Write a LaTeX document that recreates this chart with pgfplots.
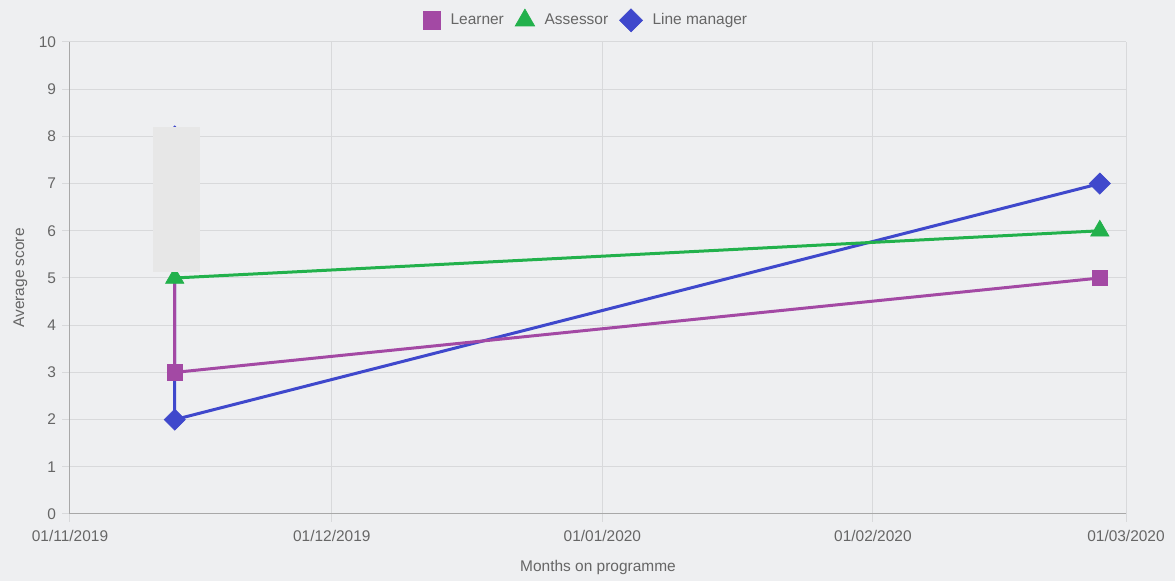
\documentclass[border=0pt]{standalone}
\usepackage{fontspec}
\setmainfont{Liberation Sans}
\usepackage{pgfplots}
\pgfplotsset{compat=1.18}
\usetikzlibrary{backgrounds}
\definecolor{bg}{HTML}{EEEFF1}
\definecolor{learner}{HTML}{A349A4}
\definecolor{assessor}{HTML}{22B14C}
\definecolor{manager}{HTML}{3F48CC}
\definecolor{gridc}{HTML}{D8D9DB}
\definecolor{axc}{HTML}{A8A8A8}
\definecolor{txt}{HTML}{666666}
\definecolor{boxc}{HTML}{E7E7E7}
\begin{document}
\begin{tikzpicture}
\begin{axis}[
  name=ax,
  scale only axis, width=792pt, height=354pt,
  xmin=0, xmax=121, ymin=0, ymax=10,
  axis x line*=bottom, axis y line*=left,
  axis line style={axc, line width=0.75pt},
  xtick={0,30,61,92,121},
  xticklabels={01/11/2019,01/12/2019,01/01/2020,01/02/2020,01/03/2020},
  ytick={0,1,...,10},
  grid=major, grid style={gridc, line width=0.75pt},
  tick align=outside, major tick length=6pt,
  tick style={gridc, line width=0.75pt},
  tick label style={font=\fontsize{11.6}{13}\selectfont, text=txt},
  xticklabel style={yshift=-1.5pt},
  /pgf/number format/assume math mode=true,
  xlabel={Months on programme}, ylabel={Average score},
  label style={font=\fontsize{11.6}{13}\selectfont, text=txt},
  xlabel style={at={(axis description cs:0.5,-0.114)}, anchor=center},
  ylabel style={at={(axis description cs:-0.047,0.5)}, anchor=center},
  legend style={at={(axis description cs:0.5,1)}, anchor=south, yshift=4.5pt, xshift=-8.5pt,
    draw=none, fill=none, font=\fontsize{11.6}{13}\selectfont, text=txt,
    /tikz/every even column/.append style={column sep=6.5pt},
    /tikz/every odd column/.append style={column sep=5.5pt},
    legend image code/.code={\draw[#1] (0.22cm,0cm) -- plot coordinates {(0.22cm,0cm)};}},
  legend columns=-1,
  line width=2.25pt,
]
\addlegendimage{only marks, mark=square*, mark size=6.4pt, color=learner, mark options={line width=0.5pt}}
\addlegendentry{Learner}
\addlegendimage{only marks, mark=triangle*, mark size=8.4pt, color=assessor, mark options={line width=0.5pt}}
\addlegendentry{Assessor}
\addlegendimage{only marks, mark=square*, mark size=6.1pt, color=manager, mark options={rotate=45, line width=0.5pt}}
\addlegendentry{Line manager}

\addplot[forget plot, color=manager, mark=square*, mark size=5.6pt, mark options={rotate=45, line width=0.5pt}]
  coordinates {(12,8) (12,2) (118,7)};
\addplot[forget plot, color=learner, mark=square*, mark size=5.75pt, mark options={line width=0.5pt}]
  coordinates {(12,6) (12,3) (118,5)};
\addplot[forget plot, color=assessor, mark=triangle*, mark size=7.9pt, mark options={line width=0.5pt}]
  coordinates {(12,5) (118,6)};
\coordinate (b1) at (axis cs:9.5,5.13);
\coordinate (b2) at (axis cs:14.9,8.2);
\end{axis}
\fill[boxc] (b1) rectangle (b2);
\begin{scope}[on background layer]
\fill[bg] ([xshift=-52.5pt,yshift=-50.25pt]ax.south west) rectangle ([xshift=36.75pt,yshift=31.5pt]ax.north east);
\end{scope}
\end{tikzpicture}
\end{document}
